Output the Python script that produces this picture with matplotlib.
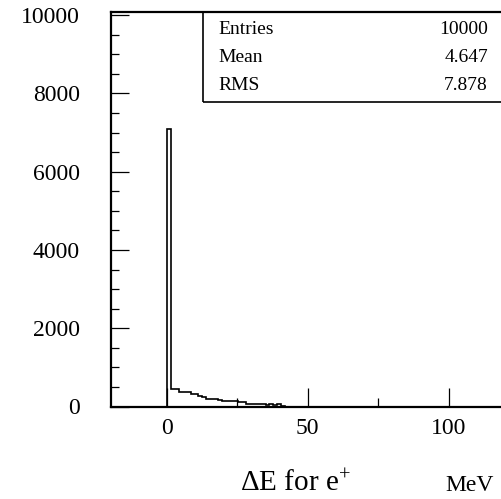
import numpy as np
import matplotlib
matplotlib.use("Agg")
import matplotlib.pyplot as plt
from matplotlib.patches import Rectangle
from matplotlib.ticker import MultipleLocator, FixedLocator

plt.rcParams['font.family'] = ['Liberation Serif', 'DejaVu Serif']
plt.rcParams['mathtext.fontset'] = 'custom'
plt.rcParams['mathtext.rm'] = 'Liberation Serif'
plt.rcParams['mathtext.it'] = 'Liberation Serif'

# histogram data (bin width 1.4 MeV starting at 0)
bin_edges = np.round(np.arange(0, 42.0 + 0.01, 1.4), 2)
counts = [7100, 445, 440, 370, 365, 360, 318, 312, 258, 255,
          200, 196, 190, 155, 153, 150, 148, 140, 112, 108,
          70, 60, 65, 55, 62, 48, 58, 45, 52, 20]

stats_names = ["Entries", "Mean", "RMS"]
stats_values = ["10000", "4.647", "7.878"]

x_label = "ΔE for e$^{+}$"
unit_label = "MeV"

W, H = 502, 499
fig = plt.figure(figsize=(W / 100, H / 100), dpi=100)
ax_l, ax_r, ax_t, ax_b = 110.6, 505.0, 12.0, 406.5
ax = fig.add_axes([ax_l / W, 1 - ax_b / H, (ax_r - ax_l) / W, (ax_b - ax_t) / H])

ax.stairs(counts, bin_edges, baseline=0, color='black', lw=1.2)

ax.set_xlim(-20, 120)
ax.set_ylim(0, 10080)

for s in ax.spines.values():
    s.set_linewidth(1.6)

ax.xaxis.set_major_locator(FixedLocator([0, 50, 100]))
ax.xaxis.set_minor_locator(FixedLocator([25, 75]))
ax.yaxis.set_major_locator(MultipleLocator(2000))
ax.yaxis.set_minor_locator(MultipleLocator(500))

ax.tick_params(axis='both', which='both', direction='in', width=0.9,
               top=False, right=False)
ax.tick_params(axis='y', which='major', length=13, pad=22, labelsize=17)
ax.tick_params(axis='y', which='minor', length=6)
ax.tick_params(axis='x', which='major', length=13.5, pad=8, labelsize=17)
ax.tick_params(axis='x', which='minor', length=6.5)

# stats box
bx = (202.7 - ax_l) / (ax_r - ax_l)
by = (ax_b - 102) / (ax_b - ax_t)
ax.add_patch(Rectangle((bx, by), 1.2, 1 - by, transform=ax.transAxes,
                       fill=False, lw=1.2, ec='black', clip_on=False))
ys_px = [29, 58, 86]
for name, val, ypx in zip(stats_names, stats_values, ys_px):
    yy = (ax_b - ypx) / (ax_b - ax_t)
    ax.text((218 - ax_l) / (ax_r - ax_l), yy, name, transform=ax.transAxes,
            ha='left', va='center', fontsize=14)
    ax.text((488 - ax_l) / (ax_r - ax_l), yy, val, transform=ax.transAxes,
            ha='right', va='center', fontsize=14)

fig.text(240 / W, 1 - 491 / H, x_label, ha='left', va='baseline', fontsize=21)
fig.text(445 / W, 1 - 491 / H, unit_label, ha='left', va='baseline', fontsize=17)

fig.savefig("out.png", dpi=100)
